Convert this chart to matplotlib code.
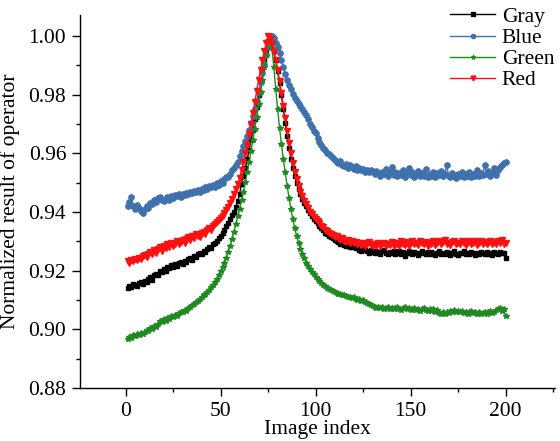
import matplotlib
matplotlib.use("Agg")
import matplotlib.pyplot as plt
import numpy as np
from matplotlib.ticker import MultipleLocator

plt.rcParams['font.family'] = ['Liberation Serif', 'DejaVu Serif']
plt.rcParams['mathtext.fontset'] = 'stix'

image_index = list(range(1, 201))

gray = [
    0.9142, 0.9148, 0.9145, 0.9155, 0.9152, 0.9148, 0.9158, 0.9162, 0.9156, 0.9166,
    0.9160, 0.9172, 0.9178, 0.9170, 0.9185, 0.9190, 0.9184, 0.9200, 0.9196, 0.9206,
    0.9200, 0.9212, 0.9208, 0.9218, 0.9214, 0.9222, 0.9216, 0.9226, 0.9230, 0.9224,
    0.9234, 0.9230, 0.9240, 0.9245, 0.9238, 0.9250, 0.9246, 0.9256, 0.9262, 0.9258,
    0.9268, 0.9264, 0.9275, 0.9282, 0.9278, 0.9290, 0.9296, 0.9302, 0.9310, 0.9318,
    0.9330, 0.9340, 0.9352, 0.9362, 0.9375, 0.9390, 0.9402, 0.9418, 0.9438, 0.9462,
    0.9495, 0.9522, 0.9550, 0.9580, 0.9612, 0.9645, 0.9680, 0.9718, 0.9758, 0.9800,
    0.9842, 0.9880, 0.9918, 0.9952, 0.9985, 1.0000, 0.9982, 0.9950, 0.9918, 0.9880,
    0.9840, 0.9798, 0.9752, 0.9705, 0.9660, 0.9618, 0.9582, 0.9550, 0.9522, 0.9498,
    0.9478, 0.9462, 0.9445, 0.9432, 0.9420, 0.9408, 0.9398, 0.9388, 0.9378, 0.9370,
    0.9362, 0.9354, 0.9345, 0.9340, 0.9330, 0.9326, 0.9320, 0.9315, 0.9312, 0.9305,
    0.9302, 0.9298, 0.9292, 0.9296, 0.9288, 0.9285, 0.9290, 0.9282, 0.9280, 0.9285,
    0.9276, 0.9280, 0.9272, 0.9268, 0.9275, 0.9270, 0.9266, 0.9262, 0.9272, 0.9265,
    0.9260, 0.9268, 0.9264, 0.9258, 0.9266, 0.9270, 0.9262, 0.9258, 0.9264, 0.9260,
    0.9266, 0.9256, 0.9262, 0.9268, 0.9258, 0.9264, 0.9252, 0.9260, 0.9266, 0.9262,
    0.9258, 0.9264, 0.9260, 0.9255, 0.9262, 0.9268, 0.9260, 0.9256, 0.9263, 0.9258,
    0.9264, 0.9260, 0.9254, 0.9262, 0.9266, 0.9258, 0.9262, 0.9256, 0.9264, 0.9260,
    0.9255, 0.9262, 0.9266, 0.9258, 0.9254, 0.9262, 0.9260, 0.9266, 0.9256, 0.9262,
    0.9258, 0.9264, 0.9260, 0.9254, 0.9262, 0.9258, 0.9265, 0.9260, 0.9256, 0.9263,
    0.9258, 0.9262, 0.9255, 0.9264, 0.9260, 0.9257, 0.9263, 0.9259, 0.9262, 0.9242,
]

blue = [
    0.9422, 0.9435, 0.9452, 0.9420, 0.9410, 0.9425, 0.9415, 0.9405, 0.9398, 0.9412,
    0.9420, 0.9415, 0.9432, 0.9428, 0.9440, 0.9436, 0.9448, 0.9452, 0.9440, 0.9438,
    0.9445, 0.9450, 0.9442, 0.9455, 0.9448, 0.9458, 0.9454, 0.9460, 0.9452, 0.9462,
    0.9458, 0.9466, 0.9460, 0.9470, 0.9464, 0.9472, 0.9468, 0.9476, 0.9470, 0.9480,
    0.9474, 0.9484, 0.9478, 0.9490, 0.9486, 0.9492, 0.9485, 0.9498, 0.9494, 0.9505,
    0.9500, 0.9512, 0.9520, 0.9518, 0.9530, 0.9542, 0.9550, 0.9560, 0.9572, 0.9590,
    0.9608, 0.9625, 0.9642, 0.9660, 0.9680, 0.9705, 0.9728, 0.9752, 0.9780, 0.9810,
    0.9842, 0.9875, 0.9905, 0.9935, 0.9962, 0.9985, 1.0000, 0.9992, 0.9975, 0.9962,
    0.9942, 0.9920, 0.9895, 0.9872, 0.9850, 0.9835, 0.9818, 0.9802, 0.9790, 0.9780,
    0.9770, 0.9762, 0.9752, 0.9742, 0.9730, 0.9718, 0.9702, 0.9690, 0.9676, 0.9668,
    0.9652, 0.9640, 0.9628, 0.9620, 0.9612, 0.9602, 0.9598, 0.9590, 0.9585, 0.9578,
    0.9572, 0.9568, 0.9575, 0.9562, 0.9558, 0.9564, 0.9552, 0.9560, 0.9555, 0.9548,
    0.9556, 0.9545, 0.9552, 0.9542, 0.9548, 0.9538, 0.9545, 0.9535, 0.9542, 0.9536,
    0.9530, 0.9540, 0.9532, 0.9522, 0.9538, 0.9530, 0.9548, 0.9524, 0.9536, 0.9554,
    0.9528, 0.9538, 0.9522, 0.9534, 0.9526, 0.9544, 0.9520, 0.9532, 0.9552, 0.9526,
    0.9536, 0.9520, 0.9530, 0.9540, 0.9522, 0.9532, 0.9524, 0.9546, 0.9520, 0.9530,
    0.9524, 0.9538, 0.9518, 0.9532, 0.9526, 0.9540, 0.9522, 0.9530, 0.9562, 0.9524,
    0.9518, 0.9534, 0.9524, 0.9516, 0.9530, 0.9522, 0.9538, 0.9520, 0.9530, 0.9524,
    0.9536, 0.9520, 0.9530, 0.9524, 0.9544, 0.9522, 0.9534, 0.9526, 0.9560, 0.9530,
    0.9540, 0.9524, 0.9534, 0.9550, 0.9528, 0.9542, 0.9554, 0.9560, 0.9566, 0.9572,
]

green = [
    0.8968, 0.8975, 0.8972, 0.8980, 0.8976, 0.8984, 0.8980, 0.8988, 0.8985, 0.8992,
    0.8998, 0.8995, 0.9005, 0.9002, 0.9012, 0.9008, 0.9020, 0.9030, 0.9025, 0.9035,
    0.9030, 0.9040, 0.9036, 0.9045, 0.9042, 0.9050, 0.9046, 0.9055, 0.9060, 0.9058,
    0.9066, 0.9062, 0.9072, 0.9078, 0.9082, 0.9088, 0.9094, 0.9098, 0.9104, 0.9110,
    0.9116, 0.9122, 0.9128, 0.9136, 0.9145, 0.9152, 0.9162, 0.9172, 0.9185, 0.9198,
    0.9212, 0.9228, 0.9245, 0.9265, 0.9285, 0.9308, 0.9332, 0.9358, 0.9385, 0.9412,
    0.9440, 0.9470, 0.9502, 0.9535, 0.9570, 0.9608, 0.9645, 0.9685, 0.9725, 0.9768,
    0.9810, 0.9852, 0.9895, 0.9935, 0.9968, 0.9992, 0.9960, 0.9895, 0.9820, 0.9750,
    0.9688, 0.9632, 0.9580, 0.9535, 0.9490, 0.9448, 0.9410, 0.9375, 0.9345, 0.9318,
    0.9295, 0.9275, 0.9258, 0.9242, 0.9228, 0.9215, 0.9205, 0.9196, 0.9188, 0.9180,
    0.9172, 0.9165, 0.9158, 0.9152, 0.9148, 0.9142, 0.9138, 0.9134, 0.9130, 0.9128,
    0.9124, 0.9120, 0.9122, 0.9116, 0.9118, 0.9114, 0.9110, 0.9112, 0.9106, 0.9110,
    0.9104, 0.9100, 0.9104, 0.9098, 0.9100, 0.9094, 0.9090, 0.9088, 0.9084, 0.9080,
    0.9078, 0.9074, 0.9076, 0.9072, 0.9076, 0.9070, 0.9074, 0.9078, 0.9070, 0.9074,
    0.9068, 0.9074, 0.9078, 0.9070, 0.9066, 0.9072, 0.9076, 0.9068, 0.9072, 0.9066,
    0.9070, 0.9074, 0.9066, 0.9070, 0.9064, 0.9068, 0.9072, 0.9066, 0.9062, 0.9068,
    0.9064, 0.9070, 0.9060, 0.9066, 0.9056, 0.9052, 0.9058, 0.9054, 0.9060, 0.9056,
    0.9062, 0.9058, 0.9066, 0.9060, 0.9064, 0.9058, 0.9062, 0.9056, 0.9060, 0.9054,
    0.9058, 0.9062, 0.9056, 0.9060, 0.9054, 0.9058, 0.9052, 0.9056, 0.9060, 0.9054,
    0.9058, 0.9062, 0.9056, 0.9060, 0.9065, 0.9068, 0.9072, 0.9064, 0.9070, 0.9046,
]

red = [
    0.9232, 0.9228, 0.9236, 0.9232, 0.9240, 0.9236, 0.9245, 0.9240, 0.9250, 0.9255,
    0.9248, 0.9258, 0.9265, 0.9256, 0.9270, 0.9262, 0.9275, 0.9280, 0.9268, 0.9284,
    0.9278, 0.9290, 0.9282, 0.9295, 0.9286, 0.9292, 0.9300, 0.9290, 0.9298, 0.9304,
    0.9296, 0.9308, 0.9315, 0.9305, 0.9320, 0.9312, 0.9325, 0.9318, 0.9316, 0.9328,
    0.9332, 0.9325, 0.9340, 0.9346, 0.9338, 0.9352, 0.9358, 0.9365, 0.9372, 0.9380,
    0.9388, 0.9396, 0.9408, 0.9418, 0.9432, 0.9446, 0.9462, 0.9478, 0.9496, 0.9515,
    0.9545, 0.9572, 0.9600, 0.9630, 0.9665, 0.9700, 0.9738, 0.9775, 0.9812, 0.9852,
    0.9885, 0.9918, 0.9950, 0.9975, 1.0000, 0.9990, 0.9972, 0.9945, 0.9918, 0.9885,
    0.9848, 0.9805, 0.9762, 0.9720, 0.9676, 0.9635, 0.9600, 0.9568, 0.9538, 0.9512,
    0.9488, 0.9470, 0.9455, 0.9438, 0.9428, 0.9415, 0.9402, 0.9395, 0.9384, 0.9378,
    0.9368, 0.9362, 0.9352, 0.9348, 0.9340, 0.9335, 0.9330, 0.9326, 0.9322, 0.9316,
    0.9318, 0.9310, 0.9306, 0.9310, 0.9302, 0.9298, 0.9305, 0.9296, 0.9300, 0.9294,
    0.9298, 0.9290, 0.9296, 0.9288, 0.9294, 0.9286, 0.9292, 0.9298, 0.9288, 0.9285,
    0.9292, 0.9286, 0.9295, 0.9284, 0.9290, 0.9296, 0.9285, 0.9292, 0.9288, 0.9298,
    0.9286, 0.9294, 0.9290, 0.9284, 0.9302, 0.9292, 0.9288, 0.9298, 0.9286, 0.9294,
    0.9300, 0.9290, 0.9296, 0.9288, 0.9302, 0.9294, 0.9290, 0.9298, 0.9286, 0.9296,
    0.9292, 0.9300, 0.9288, 0.9296, 0.9302, 0.9290, 0.9298, 0.9304, 0.9292, 0.9296,
    0.9288, 0.9298, 0.9302, 0.9292, 0.9296, 0.9290, 0.9300, 0.9294, 0.9288, 0.9298,
    0.9302, 0.9290, 0.9296, 0.9300, 0.9288, 0.9295, 0.9302, 0.9292, 0.9298, 0.9290,
    0.9296, 0.9302, 0.9290, 0.9298, 0.9292, 0.9300, 0.9294, 0.9304, 0.9290, 0.9296,
]

series_names = ["Gray", "Blue", "Green", "Red"]
x_ticks = [0, 50, 100, 150, 200]
y_ticks = [0.88, 0.90, 0.92, 0.94, 0.96, 0.98, 1.00]

fig = plt.figure(figsize=(5.6, 4.41), dpi=100)
ax = fig.add_axes([0.143, 0.120, 0.848, 0.846])

styles = [
    dict(color="black", marker="s", markersize=3.4),
    dict(color="#3f72ad", marker="o", markersize=3.8),
    dict(color="#1f8a1f", marker="*", markersize=3.8),
    dict(color="#ff1010", marker="v", markersize=4.4),
]
for name, ys, st in zip(series_names, [gray, blue, green, red], styles):
    ax.plot(image_index, ys, linewidth=1.0, label=name, **st)

ax.set_xlim(-24, 226)
ax.set_ylim(0.88, 1.0072)
ax.set_xticks(x_ticks)
ax.set_yticks(y_ticks)
ax.set_yticklabels([f"{v:.2f}" for v in y_ticks])
ax.xaxis.set_minor_locator(MultipleLocator(25))
ax.yaxis.set_minor_locator(MultipleLocator(0.01))

for side in ["top", "right"]:
    ax.spines[side].set_visible(False)
for side in ["left", "bottom"]:
    ax.spines[side].set_linewidth(1.0)

ax.tick_params(which="major", direction="out", length=6, width=1.0, labelsize=15.5, pad=4)
ax.tick_params(which="minor", direction="out", length=3, width=1.0)

ax.set_xlabel("Image index", fontsize=15.5, labelpad=-1)
ax.set_ylabel("Normalized result of operator", fontsize=15.5, labelpad=6)

leg = fig.legend(loc="upper right", bbox_to_anchor=(1.015, 1.016), frameon=False,
                 fontsize=15.5, handlelength=2.1, handletextpad=0.3, labelspacing=0.05,
                 borderpad=0.15, markerscale=0.8)

fig.savefig("out.png", dpi=100)
